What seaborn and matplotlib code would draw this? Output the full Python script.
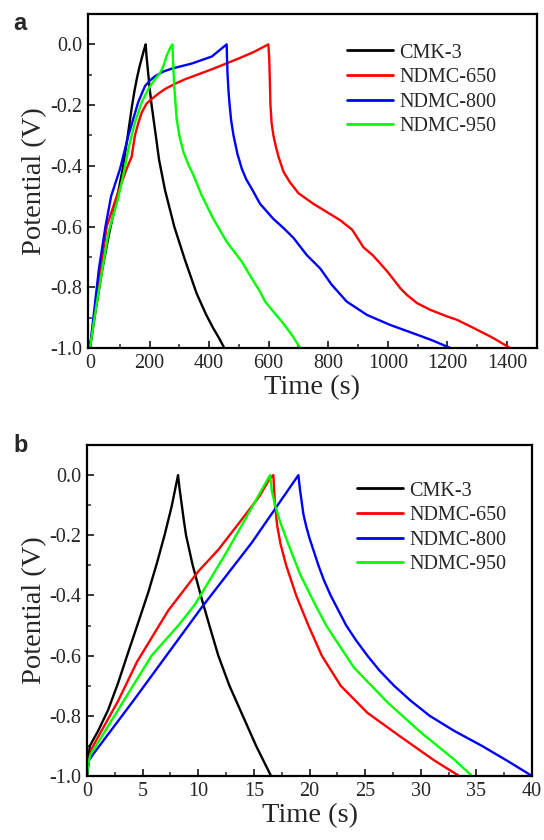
import numpy as np
import pandas as pd
import matplotlib
matplotlib.use("Agg")
import matplotlib.pyplot as plt
from matplotlib.ticker import MultipleLocator
import seaborn as sns

# ---------------- data: panel a ----------------
labels = ["CMK-3", "NDMC-650", "NDMC-800", "NDMC-950"]
colors = ["#000000", "#FF0000", "#0000FF", "#00FF00"]

a_cmk_t = [0, 20, 41, 65, 92, 110, 127, 140, 150, 158, 166, 174, 181, 187,
           190, 193, 196, 201, 207, 214, 221, 232, 252, 283, 319, 358, 390, 414, 435, 451]
a_cmk_v = [-1.0, -0.87, -0.743, -0.62, -0.5, -0.41, -0.30, -0.21, -0.15, -0.11, -0.075,
           -0.045, -0.02, 0.0,
           -0.04, -0.07, -0.10, -0.15, -0.20, -0.25, -0.30, -0.38, -0.48, -0.60, -0.71,
           -0.82, -0.89, -0.935, -0.97, -1.0]

a_650_t = [0, 18, 36, 56, 90, 123, 140, 151, 162, 174, 190, 207, 230, 252, 285, 319, 360, 409,
           450, 498, 550, 599,
           602, 604, 606, 610, 616, 625, 633, 650, 672, 700, 750, 800, 840, 880, 900, 918,
           950, 974, 1000, 1042, 1064, 1098, 1142, 1199, 1232, 1288, 1350, 1411]
a_650_v = [-1.0, -0.87, -0.74, -0.6, -0.5, -0.41, -0.37, -0.30, -0.26, -0.224, -0.195, -0.18,
           -0.162, -0.147, -0.13, -0.115, -0.1, -0.082, -0.066, -0.047, -0.025, 0.0,
           -0.05, -0.12, -0.2, -0.26, -0.30, -0.34, -0.37, -0.42, -0.455, -0.49, -0.525,
           -0.555, -0.579, -0.61, -0.64, -0.668, -0.695, -0.721, -0.75, -0.803, -0.825,
           -0.852, -0.874, -0.896, -0.907, -0.934, -0.965, -1.0]

a_800_t = [0, 15, 30, 52, 71, 101, 129, 150, 162, 175, 185, 200, 218, 245, 274, 342, 409, 459,
           460, 462, 465, 468, 474, 482, 495, 510, 525, 543, 571, 616, 650, 683, 728, 773, 812,
           862, 930, 1008, 1098, 1150, 1210]
a_800_v = [-1.0, -0.87, -0.74, -0.6, -0.5, -0.41, -0.30, -0.23, -0.19, -0.16, -0.137, -0.12,
           -0.105, -0.09, -0.08, -0.063, -0.04, 0.0,
           -0.04, -0.1, -0.15, -0.19, -0.25, -0.30, -0.36, -0.41, -0.445, -0.475, -0.525,
           -0.575, -0.605, -0.637, -0.694, -0.738, -0.792, -0.847, -0.891, -0.924, -0.956,
           -0.975, -1.0]

a_950_t = [0, 20, 40, 62, 95, 112, 129, 151, 174, 196, 218, 235, 247, 258, 270, 277,
           278, 280, 283, 287, 291, 300, 314, 330, 347, 375, 414, 459, 510, 543, 571, 588,
           620, 650, 680, 706]
a_950_v = [-1.0, -0.87, -0.75, -0.62, -0.505, -0.43, -0.344, -0.257, -0.19, -0.147, -0.115,
           -0.095, -0.071, -0.036, -0.01, 0.0,
           -0.03, -0.08, -0.137, -0.19, -0.245, -0.30, -0.355, -0.395, -0.43, -0.497, -0.574,
           -0.650, -0.716, -0.770, -0.814, -0.847, -0.885, -0.92, -0.96, -1.0]

# ---------------- data: panel b ----------------
b_cmk_t = [0, 0.1, 0.25, 1.0, 1.9, 2.8, 3.6, 4.6, 5.5, 6.3, 7.0, 7.6, 8.18,
           8.3, 8.48, 8.7, 8.9, 9.5, 10.3, 11.0, 11.8, 12.8, 14.0, 15.2, 16.54]
b_cmk_v = [-1.0, -0.95, -0.90, -0.85, -0.78, -0.69, -0.60, -0.49, -0.39, -0.29, -0.195, -0.105, 0.0,
           -0.04, -0.09, -0.15, -0.2, -0.3, -0.41, -0.5, -0.6, -0.7, -0.8, -0.9, -1.0]

b_650_t = [0, 0.15, 0.4, 2.8, 4.5, 7.3, 10.0, 11.8, 13.9, 15.5, 16.45, 16.75,
           16.82, 16.9, 17.1, 17.4, 17.9, 18.8, 19.9, 21.1, 22.8, 25.2, 28.2, 31.2, 33.45]
b_650_v = [-1.0, -0.95, -0.91, -0.75, -0.62, -0.45, -0.32, -0.248, -0.148, -0.07, -0.01, 0.0,
           -0.05, -0.1, -0.17, -0.23, -0.3, -0.4, -0.5, -0.6, -0.7, -0.79, -0.87, -0.948, -1.0]

b_800_t = [0, 0.15, 0.5, 4.2, 10.3, 14.8, 19.0,
           19.07, 19.15, 19.3, 19.45, 19.7, 20.0, 20.4, 20.8, 21.3, 21.9, 22.6, 23.3, 24.2,
           25.2, 26.3, 27.6, 29.1, 30.8, 33.0, 35.5, 37.8, 40.0]
b_800_v = [-1.0, -0.95, -0.93, -0.748, -0.44, -0.225, 0.0,
           -0.025, -0.05, -0.09, -0.13, -0.17, -0.21, -0.255, -0.3, -0.35, -0.4, -0.45, -0.5,
           -0.55, -0.6, -0.65, -0.7, -0.75, -0.8, -0.85, -0.9, -0.95, -1.0]

b_950_t = [0, 0.1, 0.3, 2.8, 5.8, 8.2, 9.7, 12.4, 14.2, 16.45,
           16.6, 16.9, 17.4, 18.1, 19.16, 20.5, 21.5, 24.0, 27.0, 30.0, 33.0, 34.6]
b_950_v = [-1.0, -0.96, -0.93, -0.78, -0.6, -0.5, -0.43, -0.265, -0.148, 0.0,
           -0.05, -0.1, -0.16, -0.23, -0.33, -0.43, -0.5, -0.64, -0.755, -0.855, -0.945, -1.0]

a_xticks = [0, 200, 400, 600, 800, 1000, 1200, 1400]
b_xticks = [0, 5, 10, 15, 20, 25, 30, 35, 40]
yticks = [-1.0, -0.8, -0.6, -0.4, -0.2, 0.0]


def make_df(series):
    frames = []
    for name, t, v in series:
        frames.append(pd.DataFrame({"t": t, "v": v, "sample": name}))
    return pd.concat(frames, ignore_index=True)


df_a = make_df([(labels[0], a_cmk_t, a_cmk_v), (labels[1], a_650_t, a_650_v),
                (labels[2], a_800_t, a_800_v), (labels[3], a_950_t, a_950_v)])
df_b = make_df([(labels[0], b_cmk_t, b_cmk_v), (labels[1], b_650_t, b_650_v),
                (labels[2], b_800_t, b_800_v), (labels[3], b_950_t, b_950_v)])

sns.set_style("ticks")
plt.rcParams["font.family"] = ["Liberation Serif", "DejaVu Serif"]
plt.rcParams["axes.unicode_minus"] = False

fig = plt.figure(figsize=(5.44, 8.40), dpi=100)
ax_a = fig.add_axes([0.161, 0.5857, 0.8256, 0.3976])
ax_b = fig.add_axes([0.160, 0.0762, 0.818, 0.394])

palette = dict(zip(labels, colors))


def style_axis(ax, df, xlim, xticks, xminor, leg_anchor):
    sns.lineplot(data=df, x="t", y="v", hue="sample",
                 hue_order=labels, palette=palette, estimator=None, sort=False,
                 units="sample", linewidth=1.7, ax=ax, legend=True)
    ax.set_xlim(*xlim)
    ax.set_ylim(-1.0, 0.1)
    ax.set_xticks(xticks)
    ax.set_xticklabels([str(x) for x in xticks])
    ax.xaxis.set_minor_locator(MultipleLocator(xminor))
    ax.set_yticks(yticks)
    ax.set_yticklabels(["%.1f" % y for y in yticks])
    ax.set_yticks(np.arange(-0.9, 0.0, 0.2), minor=True)
    ax.tick_params(which="major", direction="in", length=5, width=1.3,
                   labelsize=14.5, pad=4, top=False, right=False)
    ax.tick_params(which="minor", direction="in", length=3, width=1.1,
                   top=False, right=False)
    for s in ax.spines.values():
        s.set_linewidth(1.6)
        s.set_color("black")
    ax.set_xlabel("Time (s)", fontsize=20.5, labelpad=2)
    ax.set_ylabel("Potential (V)", fontsize=20.5, labelpad=2)
    handles, lbls = ax.get_legend_handles_labels()
    leg = ax.legend(handles, lbls, loc="upper left", bbox_to_anchor=leg_anchor,
                    frameon=False, fontsize=14.5, handlelength=2.3,
                    handletextpad=0.3, labelspacing=0.27, borderpad=0,
                    borderaxespad=0)
    for line in leg.get_lines():
        line.set_linewidth(2.0)


style_axis(ax_a, df_a, (-8, 1500), a_xticks, 100, (0.577, 0.912))
style_axis(ax_b, df_b, (0, 40), b_xticks, 2.5, (0.606, 0.89))

fig.text(0.024, 0.964, "a", fontsize=17, fontweight="bold", family="Liberation Sans")
fig.text(0.024, 0.462, "b", fontsize=17, fontweight="bold", family="Liberation Sans")

fig.savefig("out.png", dpi=100)
